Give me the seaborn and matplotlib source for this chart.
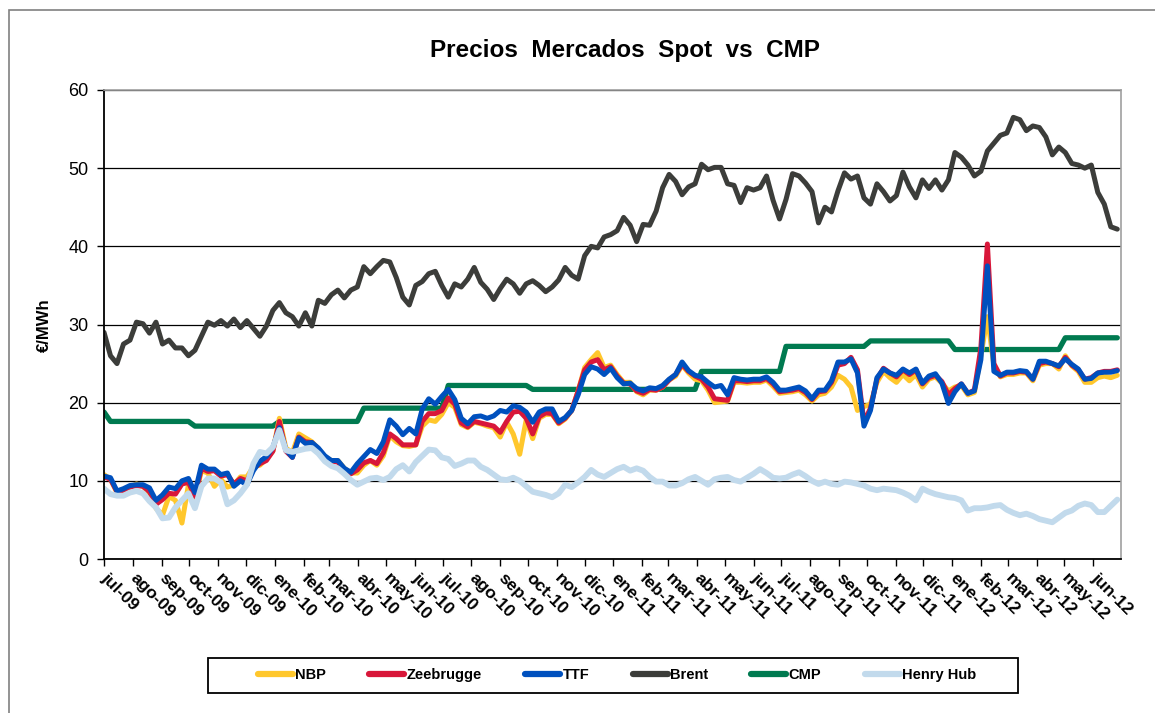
import pandas as pd
import seaborn as sns
import matplotlib.pyplot as plt
from matplotlib.patches import Rectangle
from matplotlib.lines import Line2D

# weekly readings, first one on 1 jul 2009
dates = pd.date_range('2009-07-01', periods=157, freq='7D')

nbp = [10.8, 10.2, 8.5, 8.6, 9.2, 9.6, 9.3, 8.4, 6.5, 5.6,
       8.0, 7.5, 4.6, 9.5, 7.8, 11.3, 11.0, 9.3, 10.2, 9.2,
       9.5, 10.5, 10.5, 11.8, 12.0, 12.8, 13.8, 18.0, 14.2, 13.6,
       16.0, 15.5, 15.0, 14.1, 13.1, 12.6, 12.6, 11.6, 11.0, 11.0,
       12.0, 12.6, 12.0, 13.2, 15.8, 15.0, 14.5, 14.4, 14.6, 17.0,
       17.8, 17.6, 18.5, 20.0, 19.4, 17.2, 16.8, 17.5, 17.3, 17.0,
       16.8, 15.6, 17.5, 16.0, 13.4, 17.8, 15.4, 18.0, 18.5, 18.5,
       17.3, 17.9, 19.0, 21.5, 24.5, 25.5, 26.4, 24.5, 24.8, 23.6,
       22.6, 22.6, 21.4, 21.0, 21.6, 21.6, 22.0, 22.9, 23.4, 24.8,
       23.8, 23.0, 22.8, 21.6, 20.0, 20.1, 20.2, 22.6, 22.6, 22.5,
       22.6, 22.6, 22.9, 22.1, 21.2, 21.3, 21.4, 21.6, 21.0, 20.2,
       21.0, 21.2, 22.0, 23.5, 23.0, 22.0, 19.0, 19.5, 19.8, 22.6,
       24.0, 23.2, 22.6, 23.6, 22.8, 23.6, 22.0, 23.0, 23.3, 22.5,
       21.5, 22.0, 22.2, 21.0, 21.3, 26.0, 31.0, 24.8, 23.3, 23.6,
       23.6, 23.8, 23.8, 22.8, 24.8, 25.0, 25.0, 24.3, 26.0, 24.7,
       24.0, 22.6, 22.6, 23.2, 23.4, 23.2, 23.5]

zeebrugge = [10.5, 10.2, 8.6, 8.8, 9.2, 9.4, 9.3, 8.6, 7.0, 7.6,
             8.4, 8.3, 9.6, 9.8, 8.0, 11.6, 11.2, 11.3, 10.6, 10.8,
             9.6, 10.3, 10.0, 11.6, 12.2, 12.6, 13.8, 17.6, 13.8, 13.0,
             15.6, 15.0, 14.9, 14.0, 13.0, 12.5, 12.4, 11.4, 10.9, 11.4,
             12.3, 12.6, 12.2, 13.6, 16.0, 15.4, 14.6, 14.6, 14.6, 17.6,
             18.6, 18.6, 19.0, 20.6, 19.8, 17.4, 16.9, 17.6, 17.4, 17.2,
             17.0, 16.2, 17.6, 18.8, 18.9, 18.0, 16.0, 18.2, 18.7, 18.6,
             17.4, 18.0, 19.0, 21.5, 24.2, 25.2, 25.5, 24.2, 24.6, 23.4,
             22.5, 22.4, 21.5, 21.2, 21.7, 21.6, 22.0, 22.9, 23.6, 24.9,
             24.0, 23.4, 23.0, 22.0, 20.5, 20.4, 20.3, 22.8, 22.8, 22.7,
             22.8, 22.8, 23.1, 22.4, 21.4, 21.5, 21.6, 21.8, 21.3, 20.4,
             21.4, 21.5, 22.6, 24.8, 25.0, 25.8, 24.2, 17.5, 19.3, 23.0,
             24.4, 23.8, 23.3, 24.2, 23.6, 24.2, 22.4, 23.2, 23.5, 22.7,
             21.0, 21.8, 22.4, 21.2, 21.6, 27.0, 40.3, 25.0, 23.4, 23.8,
             23.8, 24.0, 23.9, 23.0, 25.0, 25.2, 25.0, 24.6, 25.8, 24.8,
             24.2, 23.0, 23.2, 23.8, 24.0, 24.0, 24.2]

ttf = [10.6, 10.4, 8.7, 9.0, 9.4, 9.5, 9.5, 9.1, 7.5, 8.2,
       9.2, 9.0, 10.0, 10.3, 8.5, 12.0, 11.5, 11.5, 10.8, 11.0,
       9.3, 10.0, 9.5, 11.3, 12.5, 13.1, 14.3, 16.8, 14.0, 13.0,
       15.5, 14.8, 14.9, 14.2, 13.2, 12.6, 12.6, 11.6, 11.1, 12.2,
       13.1, 14.0, 13.5, 15.0, 17.8, 17.0, 15.9, 16.7, 16.0, 19.2,
       20.5, 19.8, 20.8, 21.7, 20.4, 18.0, 17.3, 18.2, 18.3, 18.0,
       18.3, 19.0, 18.8, 19.6, 19.4, 18.8, 17.5, 18.8, 19.2, 19.2,
       17.6, 18.1, 19.0, 21.0, 23.6, 24.6, 24.3, 23.6, 24.4, 23.2,
       22.4, 22.5, 21.8, 21.5, 21.9, 21.8, 22.2, 23.0, 23.6, 25.2,
       24.1, 23.5, 23.3, 22.6, 22.0, 22.2, 21.0, 23.2, 23.0, 22.9,
       23.0, 23.0, 23.3, 22.6, 21.6, 21.6, 21.8, 22.0, 21.5, 20.5,
       21.6, 21.6, 22.8, 25.2, 25.2, 25.6, 23.8, 17.0, 19.0, 23.2,
       24.3, 23.8, 23.5, 24.3, 23.8, 24.3, 22.5, 23.4, 23.7, 22.5,
       19.9, 21.4, 22.4, 21.2, 21.5, 25.5, 37.5, 24.0, 23.5, 23.9,
       23.9, 24.1, 24.0, 23.0, 25.3, 25.3, 25.0, 24.7, 25.6, 24.9,
       24.3, 23.0, 23.1, 23.8, 23.9, 23.9, 24.1]

brent = [29.0, 26.0, 25.0, 27.5, 28.0, 30.3, 30.1, 28.9, 30.3, 27.5,
         28.0, 27.0, 27.0, 26.0, 26.7, 28.5, 30.3, 29.9, 30.5, 29.8,
         30.7, 29.6, 30.5, 29.5, 28.5, 29.8, 31.8, 32.8, 31.5, 31.0,
         29.8, 31.5, 29.8, 33.1, 32.7, 33.8, 34.4, 33.4, 34.4, 34.8,
         37.4, 36.5, 37.4, 38.2, 38.0, 36.0, 33.5, 32.5, 35.0, 35.5,
         36.5, 36.8, 35.0, 33.5, 35.2, 34.8, 35.8, 37.3, 35.4, 34.5,
         33.2, 34.6, 35.8, 35.2, 34.0, 35.2, 35.6, 35.0, 34.2, 34.8,
         35.7, 37.3, 36.3, 35.8, 38.8, 40.0, 39.8, 41.2, 41.5, 42.0,
         43.7, 42.7, 40.6, 42.8, 42.7, 44.5, 47.5, 49.2, 48.3, 46.6,
         47.6, 48.0, 50.5, 49.8, 50.1, 50.1, 48.0, 47.8, 45.6, 47.5,
         47.2, 47.5, 49.0, 45.9, 43.5, 46.0, 49.3, 49.0, 48.1, 47.0,
         43.0, 45.0, 44.4, 47.1, 49.4, 48.6, 49.0, 46.2, 45.4, 48.0,
         47.0, 45.8, 46.5, 49.5, 47.6, 46.2, 48.5, 47.4, 48.5, 47.2,
         48.5, 52.0, 51.4, 50.4, 49.0, 49.6, 52.2, 53.2, 54.2, 54.5,
         56.5, 56.2, 54.8, 55.4, 55.2, 54.0, 51.7, 52.7, 52.0, 50.6,
         50.4, 50.0, 50.4, 46.9, 45.4, 42.5, 42.2]

cmp_ = [18.8, 17.6, 17.6, 17.6, 17.6, 17.6, 17.6, 17.6, 17.6, 17.6,
        17.6, 17.6, 17.6, 17.6, 17.0, 17.0, 17.0, 17.0, 17.0, 17.0,
        17.0, 17.0, 17.0, 17.0, 17.0, 17.0, 17.0, 17.6, 17.6, 17.6,
        17.6, 17.6, 17.6, 17.6, 17.6, 17.6, 17.6, 17.6, 17.6, 17.6,
        19.3, 19.3, 19.3, 19.3, 19.3, 19.3, 19.3, 19.3, 19.3, 19.3,
        19.3, 19.3, 19.3, 22.2, 22.2, 22.2, 22.2, 22.2, 22.2, 22.2,
        22.2, 22.2, 22.2, 22.2, 22.2, 22.2, 21.7, 21.7, 21.7, 21.7,
        21.7, 21.7, 21.7, 21.7, 21.7, 21.7, 21.7, 21.7, 21.7, 21.7,
        21.7, 21.7, 21.7, 21.7, 21.7, 21.7, 21.7, 21.7, 21.7, 21.7,
        21.7, 21.7, 24.0, 24.0, 24.0, 24.0, 24.0, 24.0, 24.0, 24.0,
        24.0, 24.0, 24.0, 24.0, 24.0, 27.2, 27.2, 27.2, 27.2, 27.2,
        27.2, 27.2, 27.2, 27.2, 27.2, 27.2, 27.2, 27.2, 27.9, 27.9,
        27.9, 27.9, 27.9, 27.9, 27.9, 27.9, 27.9, 27.9, 27.9, 27.9,
        27.9, 26.8, 26.8, 26.8, 26.8, 26.8, 26.8, 26.8, 26.8, 26.8,
        26.8, 26.8, 26.8, 26.8, 26.8, 26.8, 26.8, 26.8, 28.3, 28.3,
        28.3, 28.3, 28.3, 28.3, 28.3, 28.3, 28.3]

henry_hub = [9.0, 8.3, 8.1, 8.1, 8.5, 8.7, 8.4, 7.4, 6.6, 5.2,
             5.3, 6.6, 7.5, 8.4, 6.5, 9.3, 10.3, 10.3, 9.8, 7.0,
             7.5, 8.4, 9.5, 12.2, 13.7, 13.5, 14.3, 16.5, 13.9, 13.7,
             13.9, 14.1, 14.2, 13.5, 12.5, 11.9, 11.6, 10.9, 10.1, 9.5,
             9.9, 10.3, 10.4, 10.1, 10.5, 11.5, 12.0, 11.2, 12.4, 13.2,
             14.0, 13.9, 13.0, 12.8, 11.9, 12.2, 12.6, 12.6, 11.8, 11.4,
             10.8, 10.2, 10.1, 10.4, 10.0, 9.3, 8.6, 8.4, 8.2, 7.9,
             8.4, 9.5, 9.2, 9.8, 10.5, 11.4, 10.8, 10.5, 11.0, 11.5,
             11.8, 11.3, 11.6, 11.3, 10.5, 9.9, 9.9, 9.4, 9.4, 9.7,
             10.2, 10.5, 10.0, 9.5, 10.2, 10.4, 10.5, 10.1, 9.9, 10.4,
             10.9, 11.5, 11.0, 10.4, 10.3, 10.4, 10.8, 11.1, 10.6, 10.0,
             9.6, 9.9, 9.6, 9.5, 9.9, 9.8, 9.6, 9.4, 9.0, 8.8,
             9.0, 8.9, 8.8, 8.5, 8.1, 7.5, 9.0, 8.6, 8.3, 8.1,
             7.9, 7.8, 7.5, 6.2, 6.5, 6.5, 6.6, 6.8, 6.9, 6.3,
             5.9, 5.6, 5.8, 5.5, 5.1, 4.9, 4.7, 5.3, 5.9, 6.2,
             6.8, 7.1, 6.9, 6.0, 6.0, 6.8, 7.6]

month_labels = ['jul-09', 'ago-09', 'sep-09', 'oct-09', 'nov-09', 'dic-09',
                'ene-10', 'feb-10', 'mar-10', 'abr-10', 'may-10', 'jun-10',
                'jul-10', 'ago-10', 'sep-10', 'oct-10', 'nov-10', 'dic-10',
                'ene-11', 'feb-11', 'mar-11', 'abr-11', 'may-11', 'jun-11',
                'jul-11', 'ago-11', 'sep-11', 'oct-11', 'nov-11', 'dic-11',
                'ene-12', 'feb-12', 'mar-12', 'abr-12', 'may-12', 'jun-12']

colors = {'NBP': '#FFC72C', 'Zeebrugge': '#D8173A', 'TTF': '#0050BE',
          'Brent': '#3C3D3A', 'CMP': '#007A50', 'Henry Hub': '#C2DAEC'}
values = {'NBP': nbp, 'Zeebrugge': zeebrugge, 'TTF': ttf, 'Brent': brent,
          'CMP': cmp_, 'Henry Hub': henry_hub}
widths = {'NBP': 3.6, 'Zeebrugge': 3.6, 'TTF': 3.6, 'Brent': 3.6,
          'CMP': 3.8, 'Henry Hub': 4.2}

sns.set_style('white')
plt.rcParams['font.family'] = ['Liberation Sans', 'DejaVu Sans']
plt.rcParams['text.color'] = 'black'
plt.rcParams['xtick.color'] = 'black'
plt.rcParams['ytick.color'] = 'black'

fig = plt.figure(figsize=(11.55, 7.13), dpi=100)
W, H = 1155, 713
ax = fig.add_axes([104 / W, 1 - 559 / H, (1121 - 104) / W, (559 - 90) / H])

#Outer chart border (left and top edges visible)
fig.patches.append(Rectangle((9 / W, -0.05), 1.1, 1 - 10 / H + 0.05, transform=fig.transFigure,
                             fill=False, edgecolor='#808080', lw=1.2))

draw_order = ['CMP', 'NBP', 'Zeebrugge', 'TTF', 'Brent', 'Henry Hub']
for name in draw_order:
    sns.lineplot(x=dates, y=values[name], ax=ax, color=colors[name], lw=widths[name],
                 legend=False, solid_capstyle='round', solid_joinstyle='round')

ax.set_xlim(pd.Timestamp('2009-07-01'), pd.Timestamp('2012-07-01'))
ax.set_ylim(0, 60)
ax.set_yticks(range(0, 61, 10))
ax.tick_params(axis='y', labelsize=13, length=5, direction='out', width=1, pad=6)
ax.set_xticks(pd.date_range('2009-07-01', periods=36, freq='MS'))
ax.set_xticklabels(month_labels, rotation=-45, ha='left', va='center',
                   rotation_mode='anchor', fontweight='bold', fontsize=12.5)
ax.tick_params(axis='x', length=5, direction='out', width=1, pad=7)
ax.tick_params(left=True, bottom=True)
ax.set_xlabel('')
ax.set_ylabel('')

ax.yaxis.grid(True, color='black', lw=0.9)
ax.xaxis.grid(False)
ax.set_axisbelow(True)
for s in ['left', 'bottom']:
    ax.spines[s].set_color('black')
    ax.spines[s].set_linewidth(1.3)
for s in ['top', 'right']:
    ax.spines[s].set_color('#A0A0A0')
    ax.spines[s].set_linewidth(1.2)

fig.text(625 / W, 1 - 50 / H, 'Precios  Mercados  Spot  vs  CMP', ha='center', va='center',
         fontsize=17.5, fontweight='bold')
fig.text(44 / W, 1 - 325 / H, '€/MWh', rotation=90, ha='center', va='center',
         fontsize=12, fontweight='bold')

#Legend box and entries
fig.patches.append(Rectangle((208 / W, 1 - 693 / H), 810 / W, 35 / H, transform=fig.transFigure,
                             fill=False, edgecolor='black', lw=1.3))
legend_order = ['NBP', 'Zeebrugge', 'TTF', 'Brent', 'CMP', 'Henry Hub']
handles = [Line2D([0], [0], color=colors[n], lw=4.5, solid_capstyle='round') for n in legend_order]
fig.legend(handles, legend_order, loc='center', ncol=6, mode='expand', frameon=False,
           bbox_to_anchor=(252 / W, 1 - 690 / H, 730 / W, 30 / H),
           prop={'weight': 'bold', 'size': 10.5}, handlelength=2.4, handletextpad=0.15,
           borderaxespad=0)

fig.savefig('out.png', dpi=100)
